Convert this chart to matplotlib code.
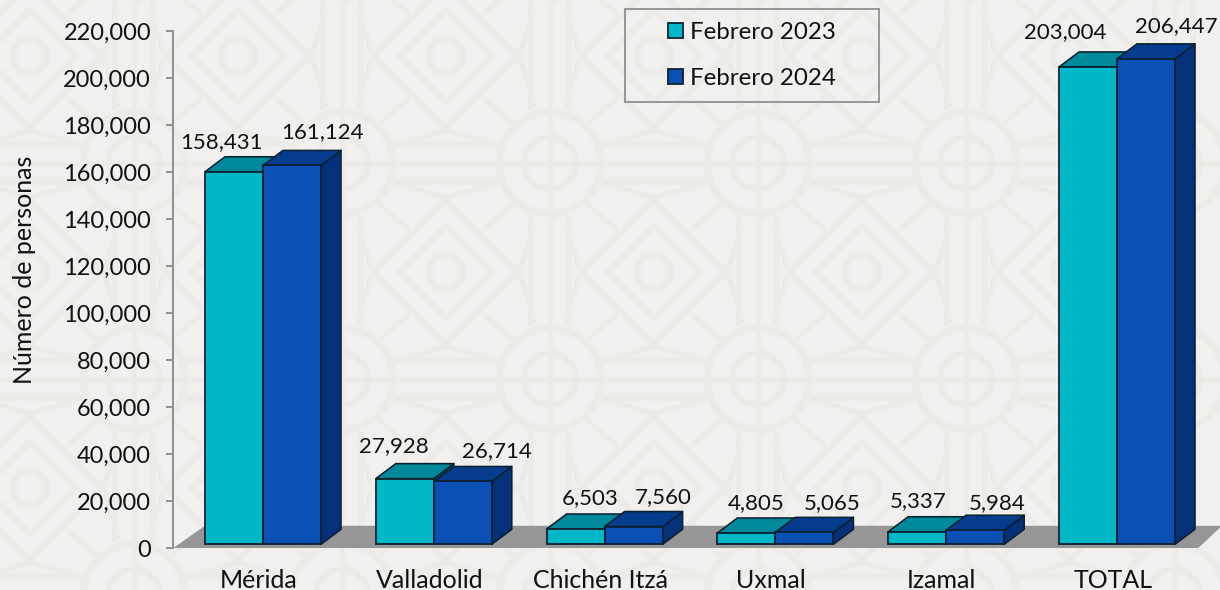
import numpy as np
import matplotlib
matplotlib.use("Agg")
import matplotlib.pyplot as plt
from matplotlib.patches import Circle, Polygon, Rectangle

plt.rcParams['font.family'] = ['Lato', 'DejaVu Sans']

categories = ['Mérida', 'Valladolid', 'Chichén Itzá', 'Uxmal', 'Izamal', 'TOTAL']
feb_2023 = [158431, 27928, 6503, 4805, 5337, 203004]
feb_2024 = [161124, 26714, 7560, 5065, 5984, 206447]
series_names = ['Febrero 2023', 'Febrero 2024']
y_ticks = list(range(0, 220001, 20000))

# hand placed labels in the original, offset in px from the top centre of the bar
offsets_2023 = [(-13, 30), (-11, 33), (15, 31), (10, 30), (1, 31), (-23, 35)]
offsets_2024 = [(30, 33), (34, 30), (30, 29), (28, 29), (22, 27), (30, 33)]

W, H = 1220, 590
BG = '#f1f0ee'
LINE = '#ecebe7'
EDGE = '#0c2030'
CYAN = ('#00b8c8', '#00899a', '#006f80')
BLUE = ('#0a50b5', '#063c8e', '#04317a')

fig = plt.figure(figsize=(W / 100, H / 100), dpi=100, facecolor=BG)


def px_lw(p):
    return p * 0.72


# background lattice, pixel coordinates
bg = fig.add_axes([0, 0, 1, 1], zorder=-1)
bg.set_xlim(0, W)
bg.set_ylim(H, 0)
bg.axis('off')


def stroke(x0, y0, x1, y1, w=5):
    bg.plot([x0, x1], [y0, y1], color=LINE, lw=px_lw(w), solid_capstyle='butt')


for cy in [-53, 163, 379, 595]:
    stroke(0, cy, W, cy, 5)
    for cx in [-74, 134, 342, 550, 758, 966, 1174]:
        bg.add_patch(Circle((cx, cy), 51, fill=False, ec=LINE, lw=px_lw(7)))
        bg.add_patch(Circle((cx, cy), 26, fill=False, ec=LINE, lw=px_lw(6)))
        for off in (-19, 19):
            stroke(cx + 53, cy + off, cx + 155, cy + off, 6)
for cx in [-74, 134, 342, 550, 758, 966, 1174]:
    stroke(cx, 0, cx, H, 5)
    for cy in [-53, 163, 379, 595]:
        for off in (-19, 19):
            stroke(cx + off, cy + 53, cx + off, cy + 163, 6)

for cy in [56, 272, 488]:
    for cx in [30, 238, 446, 654, 862, 1070]:
        for r, w in ((72, 6), (46, 6)):
            bg.add_patch(Polygon([(cx, cy - r), (cx + r, cy), (cx, cy + r), (cx - r, cy)],
                                 closed=True, fill=False, ec=LINE, lw=px_lw(w)))
        bg.add_patch(Circle((cx, cy), 17, fill=False, ec=LINE, lw=px_lw(6)))
        for sx in (-1, 1):
            for sy in (-1, 1):
                # spokes out of the diamond edges, corner struts up to the circles
                stroke(cx + sx * 37, cy + sy * 42, cx + sx * 67, cy + sy * 68, 5)
                stroke(cx, cy + sy * 74, cx + sx * 53, cy + sy * 90, 5)
                stroke(cx + sx * 74, cy, cx + sx * 88, cy + sy * 50, 5)

# main axes, spans px 173..1220 and 31..548
ax = fig.add_axes([173 / W, 1 - 548.3 / H, (W - 173) / W, (548.3 - 31) / H])
ax.patch.set_alpha(0)
PX_X = 170.8
PX_Y = (548.3 - 31) / 220000
ax.set_xlim(-90 / PX_X, (W - 263) / PX_X)
ax.set_ylim(0, 220000)

x = np.arange(len(categories))
bar_w = 58 / PX_X
depth_x = 20 / PX_X
depth_y = 15 / PX_Y
base = 4 / PX_Y

# floor of the 3d box
x0, x1 = ax.get_xlim()
floor = Polygon([(x0, 0), (x0 + 1025 / PX_X, 0), (x0 + 1049 / PX_X, 22.5 / PX_Y), (x0 + 32 / PX_X, 22.5 / PX_Y)],
                closed=True, fc='#969696', ec='none', zorder=1)
ax.add_patch(floor)


def bar_3d(xs, values, colors, z):
    front, top, side = colors
    for xi, v in zip(xs, values):
        l, r = xi, xi + bar_w
        t = base + v
        ax.add_patch(Polygon([(r, base), (r + depth_x, base + depth_y), (r + depth_x, t + depth_y), (r, t)],
                             closed=True, fc=side, ec=EDGE, lw=px_lw(1.6), joinstyle='round', zorder=z))
        ax.add_patch(Polygon([(l, t), (l + depth_x, t + depth_y), (r + depth_x, t + depth_y), (r, t)],
                             closed=True, fc=top, ec=EDGE, lw=px_lw(1.6), joinstyle='round', zorder=z))
    return ax.bar(xs, values, bar_w, bottom=base, align='edge', color=front, edgecolor=EDGE,
                  linewidth=px_lw(1.8), zorder=z + 0.5)


h1 = bar_3d(x - bar_w, feb_2023, CYAN, 2)
h2 = bar_3d(x, feb_2024, BLUE, 3)


def value_labels(xs, values, offsets):
    for xi, v, (dx, dy) in zip(xs, values, offsets):
        ax.annotate(f'{v:,}', (xi, base + v), xytext=(px_lw(dx), px_lw(dy)), textcoords='offset points',
                    ha='center', va='center', fontsize=16, color='#111111', annotation_clip=False, zorder=6)


value_labels(x - bar_w / 2, feb_2023, offsets_2023)
value_labels(x + bar_w / 2, feb_2024, offsets_2024)

ax.set_yticks(y_ticks)
ax.set_yticklabels([f'{v:,}' for v in y_ticks], fontsize=17, color='#111111')
ax.tick_params(axis='y', length=px_lw(7), width=px_lw(2), color='#919191', pad=px_lw(15))
ax.set_xticks(x - 0.025)
ax.set_xticklabels(categories, fontsize=18, color='#111111')
ax.tick_params(axis='x', length=0, pad=px_lw(21))
for s in ['top', 'right', 'bottom']:
    ax.spines[s].set_visible(False)
ax.spines['left'].set_color('#919191')
ax.spines['left'].set_linewidth(px_lw(2))

fig.text(25 / W, 1 - 270 / H, 'Número de personas', rotation=90, ha='center', va='center',
         fontsize=18, color='#111111')

# legend box
fig.add_artist(Rectangle((625 / W, 1 - 102 / H), 254 / W, 93 / H, transform=fig.transFigure,
                         fill=False, ec='#999999', lw=px_lw(2)))
fig.legend([h1[0], h2[0]], series_names, loc='center left', bbox_to_anchor=(668 / W, 1 - 55.5 / H),
           frameon=False, fontsize=17.4, handlelength=0.62, handleheight=0.62, handletextpad=0.29,
           labelspacing=1.03, borderpad=0, borderaxespad=0, labelcolor='#111111')

fig.savefig('out.png', dpi=100, facecolor=BG)
